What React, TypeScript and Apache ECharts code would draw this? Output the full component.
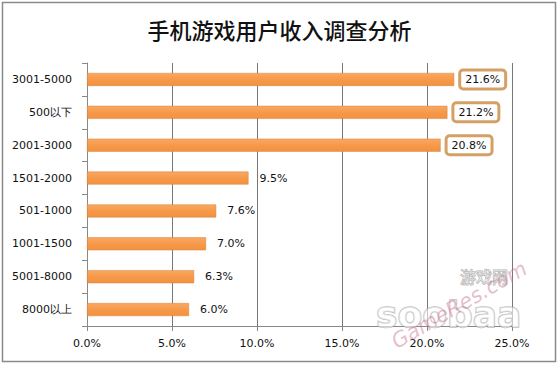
import React, { useEffect, useRef } from "react";
import * as echarts from "echarts";

const categories = ["3001-5000", "500以下", "2001-3000", "1501-2000", "501-1000", "1001-1500", "5001-8000", "8000以上"];
const values = [21.6, 21.2, 20.8, 9.5, 7.6, 7.0, 6.3, 6.0];
const boxed = [true, true, true, false, false, false, false, false];
const xTicks = [0, 5, 10, 15, 20, 25];

export default function App() {
  const ref = useRef<HTMLDivElement>(null);
  useEffect(() => {
    const chart = echarts.init(ref.current!, null, { renderer: "svg" });
    const font = "'DejaVu Sans', Verdana, sans-serif";
    chart.setOption({
      animation: false,
      backgroundColor: "#ffffff",
      title: {
        text: "手机游戏用户收入调查分析",
        left: "center",
        top: 13,
        textStyle: { fontFamily: "'Noto Sans CJK SC'", fontSize: 22, fontWeight: 500, color: "#111" },
      },
      grid: { left: 87, right: 47, top: 63, bottom: 39 },
      xAxis: {
        type: "value",
        min: xTicks[0],
        max: xTicks[xTicks.length - 1],
        interval: 5,
        axisLine: { show: true, lineStyle: { color: "#888", width: 1 } },
        axisTick: { show: true, length: 5, lineStyle: { color: "#888" } },
        axisLabel: {
          margin: 12,
          fontFamily: font,
          fontSize: 11,
          color: "#111",
          formatter: (v: number) => v.toFixed(1) + "%",
        },
        splitLine: { show: true, lineStyle: { color: "#777", width: 1 } },
      },
      yAxis: {
        type: "category",
        inverse: true,
        data: categories,
        axisLine: { show: true, lineStyle: { color: "#888", width: 1 } },
        axisTick: { show: true, length: 5, lineStyle: { color: "#888" } },
        axisLabel: { margin: 15, fontFamily: font, fontSize: 11, color: "#111" },
      },
      series: [
        {
          type: "bar",
          barWidth: 13,
          data: values.map((v, i) => ({
            value: v,
            label: boxed[i]
              ? {
                  show: true,
                  position: "right",
                  distance: 7,
                  formatter: (p: any) => p.value.toFixed(1) + "%",
                  fontFamily: font,
                  fontSize: 11,
                  color: "#111",
                  backgroundColor: "#fff",
                  borderColor: "#D4A066",
                  borderWidth: 3,
                  borderRadius: 2,
                  padding: [3, 4, 2, 4],
                }
              : {
                  show: true,
                  position: "right",
                  distance: 11,
                  formatter: (p: any) => p.value.toFixed(1) + "%",
                  fontFamily: font,
                  fontSize: 11,
                  color: "#111",
                },
          })),
          itemStyle: {
            color: new echarts.graphic.LinearGradient(0, 0, 0, 1, [
              { offset: 0, color: "#F9A862" },
              { offset: 0.5, color: "#F7994A" },
              { offset: 1, color: "#F0923F" },
            ]),
            borderColor: "#D9833A",
            borderWidth: 0.5,
          },
        },
      ],
      graphic: [
        {
          type: "rect",
          shape: { x: 2.5, y: 2.5, width: 553, height: 359 },
          style: { fill: "none", stroke: "#8a8a8a", lineWidth: 1.5 },
          silent: true,
        },
        {
          type: "text",
          x: 376,
          y: 296,
          style: {
            text: "soobaa",
            font: "bold 36px 'DejaVu Sans'",
            fill: "rgba(255,255,255,0.6)",
            stroke: "rgba(150,150,150,0.6)",
            lineWidth: 1.5,
          },
          silent: true,
          z: 100,
        },
        {
          type: "text",
          x: 460,
          y: 268,
          style: { text: "游戏网", font: "16px 'Noto Sans CJK SC'", fill: "rgba(255,255,255,0.5)", stroke: "rgba(140,140,140,0.7)", lineWidth: 1 },
          silent: true,
          z: 100,
        },
        {
          type: "text",
          x: 388,
          y: 334,
          rotation: (30 * Math.PI) / 180,
          style: { text: "GameRes.com", font: "italic 21px 'DejaVu Sans'", fill: "rgba(200,110,140,0.45)" },
          silent: true,
          z: 101,
        },
      ],
    });
    return () => chart.dispose();
  }, []);
  return <div ref={ref} style={{ position: "absolute", left: 0, top: 0, width: 559, height: 365 }} />;
}
